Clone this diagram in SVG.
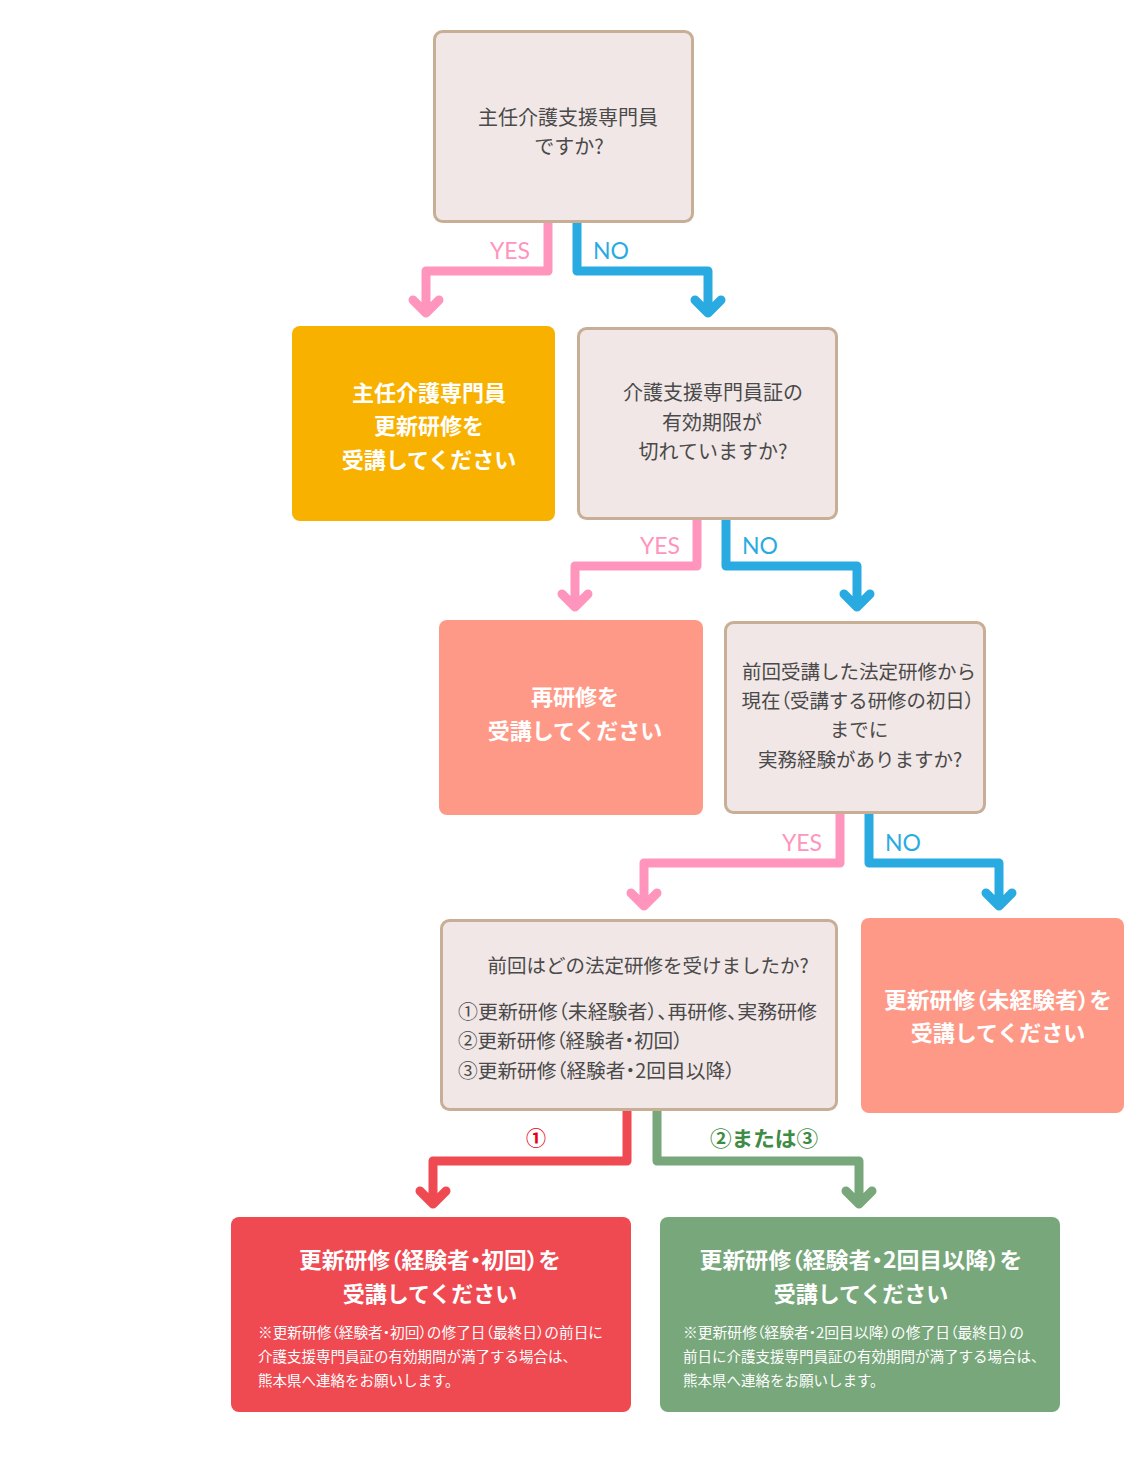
<svg xmlns="http://www.w3.org/2000/svg" width="1140" height="1463" viewBox="0 0 1140 1463">
<style>
.q{fill:#f1e7e6;stroke:#c9ae96;stroke-width:3}
.t{font-family:'Noto Sans CJK JP','Noto Sans',sans-serif;font-size:19.5px;fill:#4a4a4a;text-anchor:middle}
.tl{font-family:'Noto Sans CJK JP','Noto Sans',sans-serif;font-size:19.5px;fill:#4a4a4a}
.w{font-family:'Noto Sans CJK JP','Noto Sans',sans-serif;font-size:22px;font-weight:bold;fill:#fff;text-anchor:middle}
.s{font-family:'Noto Sans CJK JP','Noto Sans',sans-serif;font-size:14.5px;fill:#fff}
.p{font-feature-settings:"palt" 1}
.c{fill:none;stroke-width:9;stroke-linejoin:round;stroke-linecap:round}
.y{stroke:#ff94bd}.n{stroke:#29abe2}.r{stroke:#ef4a52}.g{stroke:#77a77b}
.lb{font-family:Lato,'Noto Sans',sans-serif;font-size:23px}
</style>
<rect width="1140" height="1463" fill="#fff"/>
<g id="connectors">
<path class="c y" d="M548,222 V271 H426 V313 M413,300 L426,313 L439,300"/>
<path class="c n" d="M577,222 V271 H708 V313 M695,300 L708,313 L721,300"/>
<text class="lb" x="530" y="259" fill="#ff94bd" text-anchor="end">YES</text>
<text class="lb" x="593" y="259" fill="#29abe2">NO</text>
<path class="c y" d="M697,519 V566 H575 V607 M562,594 L575,607 L588,594"/>
<path class="c n" d="M726,519 V566 H857 V607 M844,594 L857,607 L870,594"/>
<text class="lb" x="680" y="554" fill="#ff94bd" text-anchor="end">YES</text>
<text class="lb" x="742" y="554" fill="#29abe2">NO</text>
<path class="c y" d="M840,813 V863 H644 V906 M631,893 L644,906 L657,893"/>
<path class="c n" d="M869,813 V863 H999 V906 M986,893 L999,906 L1012,893"/>
<text class="lb" x="822" y="851" fill="#ff94bd" text-anchor="end">YES</text>
<text class="lb" x="885" y="851" fill="#29abe2">NO</text>
<path class="c r" d="M627,1110 V1161 H433 V1204 M420,1191 L433,1204 L446,1191"/>
<path class="c g" d="M657,1110 V1161 H859 V1204 M846,1191 L859,1204 L872,1191"/>
<text x="536" y="1146" font-family="'Noto Sans CJK JP',sans-serif" font-size="20" font-weight="bold" fill="#e60012" text-anchor="middle">①</text>
<text x="764" y="1146" font-family="'Noto Sans CJK JP',sans-serif" font-size="21" font-weight="bold" fill="#3e8b43" text-anchor="middle" textLength="108" lengthAdjust="spacingAndGlyphs">②または③</text>
</g>
<g id="n1">
<rect class="q" x="434.5" y="31.5" width="258" height="190" rx="8"/>
<text class="t" x="568" y="125" style="font-size:20px">主任介護支援専門員</text>
<text class="t" x="569" y="154" style="font-size:20px">ですか?</text>
</g>
<g id="n2">
<rect x="292" y="326" width="263" height="195" rx="8" fill="#f9b100"/>
<text class="w" x="429" y="401">主任介護専門員</text>
<text class="w" x="429" y="434">更新研修を</text>
<text class="w" x="429" y="468">受講してください</text>
</g>
<g id="n3">
<rect class="q" x="578.5" y="328.5" width="258" height="190" rx="8"/>
<text class="t" x="713" y="400" style="font-size:20px">介護支援専門員証の</text>
<text class="t" x="712" y="430" style="font-size:20px">有効期限が</text>
<text class="t" x="713" y="459" style="font-size:20px">切れていますか?</text>
</g>
<g id="n4">
<rect x="439" y="620" width="264" height="195" rx="8" fill="#ff9987"/>
<text class="w" x="575" y="705">再研修を</text>
<text class="w" x="575" y="739">受講してください</text>
</g>
<g id="n5">
<rect class="q" x="725.5" y="622.5" width="259" height="190" rx="8"/>
<text class="t" x="859" y="679">前回受講した法定研修から</text>
<text class="t" x="858" y="708" textLength="233" lengthAdjust="spacingAndGlyphs">現在<tspan class="p">（</tspan>受講する研修の初日<tspan class="p">）</tspan></text>
<text class="t" x="859" y="737">までに</text>
<text class="t" x="860" y="767">実務経験がありますか?</text>
</g>
<g id="n6">
<rect class="q" x="441.5" y="920.5" width="395" height="189" rx="8"/>
<text class="t" x="648" y="973">前回はどの法定研修を受けましたか?</text>
<text class="tl" x="458" y="1019" textLength="359" lengthAdjust="spacingAndGlyphs">①更新研修<tspan class="p">（</tspan>未経験者<tspan class="p">）、</tspan>再研修<tspan class="p">、</tspan>実務研修</text>
<text class="tl" x="458" y="1048" textLength="225" lengthAdjust="spacingAndGlyphs">②更新研修<tspan class="p">（</tspan>経験者<tspan class="p">・</tspan>初回<tspan class="p">）</tspan></text>
<text class="tl" x="458" y="1078" textLength="277" lengthAdjust="spacingAndGlyphs">③更新研修<tspan class="p">（</tspan>経験者<tspan class="p">・</tspan>2回目以降<tspan class="p">）</tspan></text>
</g>
<g id="n7">
<rect x="861" y="918" width="263" height="195" rx="8" fill="#ff9987"/>
<text class="w" x="998" y="1008" textLength="228" lengthAdjust="spacingAndGlyphs">更新研修<tspan class="p">（</tspan>未経験者<tspan class="p">）</tspan>を</text>
<text class="w" x="998" y="1041">受講してください</text>
</g>
<g id="n8">
<rect x="231" y="1217" width="400" height="195" rx="8" fill="#ef4a52"/>
<text class="w" x="430" y="1268" textLength="262" lengthAdjust="spacingAndGlyphs">更新研修<tspan class="p">（</tspan>経験者<tspan class="p">・</tspan>初回<tspan class="p">）</tspan>を</text>
<text class="w" x="430" y="1302">受講してください</text>
<text class="s" x="258" y="1338" textLength="345" lengthAdjust="spacingAndGlyphs">※更新研修<tspan class="p">（</tspan>経験者<tspan class="p">・</tspan>初回<tspan class="p">）</tspan>の修了日<tspan class="p">（</tspan>最終日<tspan class="p">）</tspan>の前日に</text>
<text class="s" x="258" y="1362">介護支援専門員証の有効期間が満了する場合は、</text>
<text class="s" x="258" y="1386">熊本県へ連絡をお願いします。</text>
</g>
<g id="n9">
<rect x="660" y="1217" width="400" height="195" rx="8" fill="#77a77b"/>
<text class="w" x="861" y="1268" textLength="323" lengthAdjust="spacingAndGlyphs">更新研修<tspan class="p">（</tspan>経験者<tspan class="p">・</tspan>2回目以降<tspan class="p">）</tspan>を</text>
<text class="w" x="861" y="1302">受講してください</text>
<text class="s" x="683" y="1338" textLength="341" lengthAdjust="spacingAndGlyphs">※更新研修<tspan class="p">（</tspan>経験者<tspan class="p">・</tspan>2回目以降<tspan class="p">）</tspan>の修了日<tspan class="p">（</tspan>最終日<tspan class="p">）</tspan>の</text>
<text class="s" x="683" y="1362">前日に介護支援専門員証の有効期間が満了する場合は、</text>
<text class="s" x="683" y="1386">熊本県へ連絡をお願いします。</text>
</g>
</svg>
